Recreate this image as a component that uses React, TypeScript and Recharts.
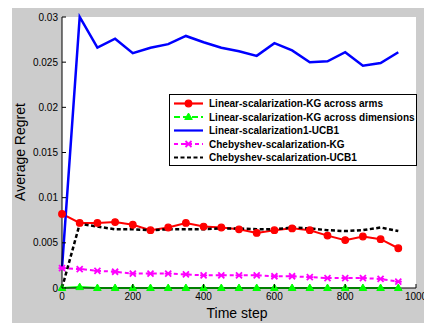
import React from 'react'
import { LineChart, Line, XAxis, YAxis, CartesianGrid, Legend } from 'recharts'

const steps = [0, 50, 100, 150, 200, 250, 300, 350, 400, 450, 500, 550, 600, 650, 700, 750, 800, 850, 900, 950]
const kgArms = [0.0082, 0.0072, 0.0072, 0.0073, 0.0070, 0.0064, 0.0067, 0.0072, 0.0068, 0.0067, 0.0065, 0.0061, 0.0064, 0.0066, 0.0064, 0.0058, 0.0053, 0.0057, 0.0054, 0.0044]
const kgDims = [0.0000, 0.0001, 0.0000, 0.0000, 0.0000, 0.0000, 0.0000, 0.0000, 0.0000, 0.0000, 0.0000, 0.0000, 0.0000, 0.0000, 0.0000, 0.0000, 0.0000, 0.0000, 0.0000, 0.0000]
const linUcb = [0.0022, 0.0300, 0.0266, 0.0276, 0.0260, 0.0266, 0.0270, 0.0279, 0.0272, 0.0266, 0.0262, 0.0257, 0.0271, 0.0263, 0.0250, 0.0251, 0.0261, 0.0246, 0.0249, 0.0261]
const chebKg = [0.0022, 0.0021, 0.0019, 0.0018, 0.0016, 0.0016, 0.0016, 0.0015, 0.0014, 0.0014, 0.0014, 0.0014, 0.0013, 0.0013, 0.0012, 0.0011, 0.0011, 0.0011, 0.0010, 0.0007]
const chebUcb = [0.0000, 0.0071, 0.0068, 0.0065, 0.0065, 0.0064, 0.0065, 0.0065, 0.0065, 0.0066, 0.0066, 0.0065, 0.0065, 0.0067, 0.0066, 0.0064, 0.0063, 0.0064, 0.0067, 0.0063]

const xTicks = [0, 200, 400, 600, 800, 1000]
const yTicks = [0, 0.005, 0.01, 0.015, 0.02, 0.025, 0.03]

const seriesNames = [
  'Linear-scalarization-KG across arms',
  'Linear-scalarization-KG across dimensions',
  'Linear-scalarization1-UCB1',
  'Chebyshev-scalarization-KG',
  'Chebyshev-scalarization-UCB1',
]

const data = steps.map((t, i) => ({
  t,
  kgArms: kgArms[i],
  kgDims: kgDims[i],
  linUcb: linUcb[i],
  chebKg: chebKg[i],
  chebUcb: chebUcb[i],
}))

const FONT = '"Liberation Sans", Arial, sans-serif'
const TICK_LEN = 4

const circleMark = (cx: number, cy: number, key?: any) => (
  <circle key={key} cx={cx} cy={cy} r={3.3} fill="#ff0000" stroke="#ff0000" strokeWidth={1.2} />
)
const triMark = (cx: number, cy: number, key?: any) => (
  <path key={key} d={`M${cx},${cy - 4} L${cx + 3.8},${cy + 2.5} L${cx - 3.8},${cy + 2.5} Z`} fill="#00ff00" stroke="#00ff00" />
)
const starMark = (cx: number, cy: number, key?: any) => (
  <path
    key={key}
    d={`M${cx - 3},${cy - 3} L${cx + 3},${cy + 3} M${cx - 3},${cy + 3} L${cx + 3},${cy - 3} M${cx - 3.5},${cy} L${cx + 3.5},${cy}`}
    stroke="#ff00ff"
    strokeWidth={1.8}
    fill="none"
  />
)

const LeftTick = (props: any) => {
  const { x, y, payload } = props
  return (
    <g>
      <line x1={x + 4} x2={x + 4 + TICK_LEN} y1={y} y2={y} stroke="#000" />
      <text x={x} y={y} textAnchor="end" dominantBaseline="central" fontSize={10} fontFamily={FONT} fill="#000">
        {String(payload.value)}
      </text>
    </g>
  )
}

const BottomTick = (props: any) => {
  const { x, y, payload } = props
  return (
    <g>
      <line x1={x} x2={x} y1={y - 4} y2={y - 4 - TICK_LEN} stroke="#000" />
      <text x={x} y={y} dy="0.75em" textAnchor="middle" fontSize={10} fontFamily={FONT} fill="#000">
        {String(payload.value)}
      </text>
    </g>
  )
}

const TopTick = (props: any) => {
  const { x, y } = props
  return <line x1={x} x2={x} y1={y} y2={y + TICK_LEN} stroke="#000" />
}

const RightTick = (props: any) => {
  const { x, y } = props
  return <line x1={x} x2={x - TICK_LEN} y1={y} y2={y} stroke="#000" />
}

const LegendBox = () => {
  const rows = [
    { color: '#ff0000', dash: undefined, mark: circleMark },
    { color: '#00ff00', dash: '6 3', mark: triMark },
    { color: '#0000ff', dash: undefined, mark: null },
    { color: '#ff00ff', dash: '4 3', mark: starMark },
    { color: '#000000', dash: '4 2.5', mark: null },
  ]
  return (
    <svg width={248} height={72} style={{ display: 'block' }}>
      <rect x={0.5} y={0.5} width={247} height={71} fill="#fff" stroke="#000" />
      {rows.map((r, i) => {
        const y = 9.5 + i * 13.5
        return (
          <g key={i}>
            <line x1={5} x2={34} y1={y} y2={y} stroke={r.color} strokeWidth={2.2} strokeDasharray={r.dash} />
            {r.mark && r.mark(19.5, y)}
            <text x={40} y={y} dominantBaseline="central" fontSize={10} fontWeight="bold" fontFamily={FONT} fill="#000">
              {seriesNames[i]}
            </text>
          </g>
        )
      })}
    </svg>
  )
}

export default function App() {
  return (
    <div style={{ position: 'absolute', left: 0, top: 0, width: 424, height: 323, background: '#fff', overflow: 'hidden' }}>
      <div style={{ position: 'absolute', left: 12, top: 8, width: 412, height: 315, background: '#cccccc' }} />
      <div style={{ position: 'absolute', left: 0, top: 0 }}>
        <LineChart width={424} height={323} data={data} margin={{ top: 17, right: 8, bottom: 15, left: 12 }}>
          <CartesianGrid horizontal={false} vertical={false} fill="#fff" />
          <XAxis
            dataKey="t"
            type="number"
            domain={[0, 1000]}
            ticks={xTicks}
            height={20}
            tickSize={0}
            tickMargin={4}
            tickLine={false}
            stroke="#000"
            tick={<BottomTick />}
            interval={0}
          />
          <XAxis
            xAxisId="top"
            orientation="top"
            dataKey="t"
            type="number"
            domain={[0, 1000]}
            ticks={xTicks}
            height={0}
            tickSize={0}
            tickMargin={0}
            tickLine={false}
            stroke="#000"
            tick={<TopTick />}
            interval={0}
          />
          <YAxis
            type="number"
            domain={[0, 0.03]}
            ticks={yTicks}
            width={50}
            tickSize={0}
            tickMargin={4}
            tickLine={false}
            stroke="#000"
            tick={<LeftTick />}
            interval={0}
          />
          <YAxis
            yAxisId="right"
            orientation="right"
            type="number"
            domain={[0, 0.03]}
            ticks={yTicks}
            width={0}
            tickSize={0}
            tickMargin={0}
            tickLine={false}
            stroke="#000"
            tick={<RightTick />}
            interval={0}
          />
          <Legend
            layout="vertical"
            align="center"
            verticalAlign="middle"
            content={() => <LegendBox />}
            wrapperStyle={{ left: 169, top: 94, width: 248, height: 72 }}
          />
          <Line
            dataKey="kgArms"
            stroke="#ff0000"
            strokeWidth={2}
            isAnimationActive={false}
            dot={(p: any) => circleMark(p.cx, p.cy, p.key)}
          />
          <Line
            dataKey="kgDims"
            stroke="#00ff00"
            strokeWidth={2}
            isAnimationActive={false}
            dot={(p: any) => triMark(p.cx, p.cy, p.key)}
          />
          <Line dataKey="linUcb" stroke="#0000ff" strokeWidth={2.5} dot={false} isAnimationActive={false} />
          <Line
            dataKey="chebKg"
            stroke="#ff00ff"
            strokeWidth={2}
            strokeDasharray="4 3"
            isAnimationActive={false}
            dot={(p: any) => starMark(p.cx, p.cy, p.key)}
          />
          <Line dataKey="chebUcb" stroke="#000000" strokeWidth={2.5} strokeDasharray="4 2.5" dot={false} isAnimationActive={false} />
        </LineChart>
      </div>
      <div
        style={{
          position: 'absolute',
          left: 237,
          top: 313,
          transform: 'translate(-50%, -50%)',
          fontFamily: FONT,
          fontSize: 14,
          whiteSpace: 'nowrap',
          color: '#000',
        }}
      >
        Time step
      </div>
      <div
        style={{
          position: 'absolute',
          left: 20,
          top: 152,
          transform: 'translate(-50%, -50%) rotate(-90deg)',
          fontFamily: FONT,
          fontSize: 14,
          whiteSpace: 'nowrap',
          color: '#000',
        }}
      >
        Average Regret
      </div>
    </div>
  )
}
